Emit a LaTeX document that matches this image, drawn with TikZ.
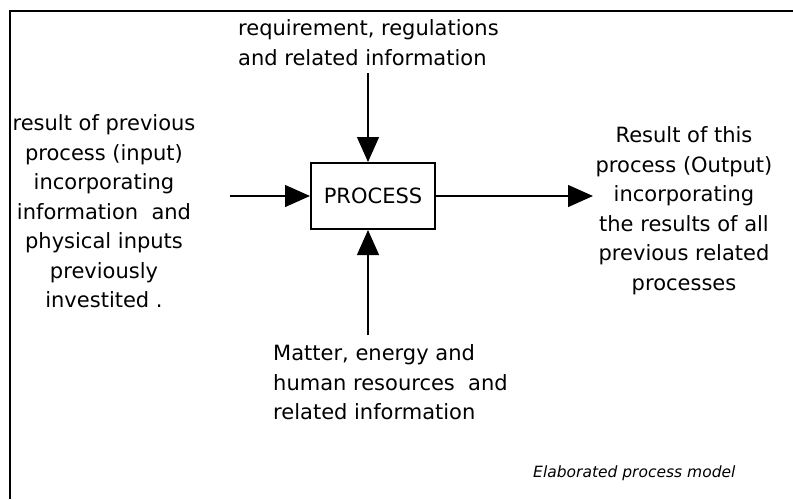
\documentclass[tikz,border=0pt]{standalone}
\usepackage{fontspec}
\setmainfont{DejaVu Sans}
\usetikzlibrary{arrows.meta}
\begin{document}
\begin{tikzpicture}[x=1pt,y=-1pt,
  flow/.style={line width=1.3pt,-{Triangle[length=25pt,width=22pt]}},
  note/.style={inner sep=0pt,font=\fontsize{21}{29.5}\selectfont}]
  \useasboundingbox (0,0) rectangle (793,499);
  % Frame
  \draw[line width=2.5pt] (793,11) -- (10,11) -- (10,499);
  % Process box
  \node[draw,line width=2pt,minimum width=124pt,minimum height=66pt,
    font=\fontsize{21}{25}\selectfont] (proc) at (373,196) {PROCESS};
  % Texts
  \node[note,anchor=north west,align=left] (reqs) at (238,19.5)
    {requirement, regulations\\and related information};
  \node[note,anchor=north,align=center] (input) at (104,114.4)
    {result of previous\\process (input)\\incorporating\\information\ \ and\\physical inputs\\previously\hspace*{16pt}\\investited .};
  \node[note,anchor=north,align=center] (output) at (684,126.4)
    {Result of this\\process (Output)\\incorporating\\the results of all\\previous related\\processes};
  \node[note,anchor=north west,align=left] (res) at (273,344.4)
    {Matter, energy and\\human resources\ \ and\\related information};
  \node[inner sep=0pt,anchor=north west,font=\fontsize{15.5}{18}\selectfont\itshape]
    (caption) at (533,466) {Elaborated process model};
  % Arrows
  \coordinate (topin) at (368,73);
  \coordinate (botin) at (368,335);
  \coordinate (leftin) at (230,196);
  \coordinate (rightout) at (593,196);
  \draw[flow] (topin) -- (topin |- proc.north);
  \draw[flow] (botin) -- (botin |- proc.south);
  \draw[flow] (leftin) -- (proc.west);
  \draw[flow] (proc.east) -- (rightout);
\end{tikzpicture}
\end{document}
